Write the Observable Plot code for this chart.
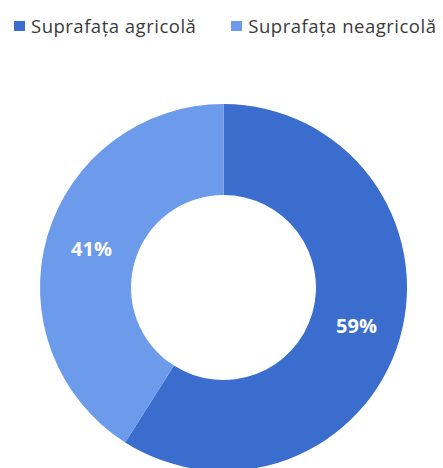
<!DOCTYPE html>
<html>
<head>
<meta charset="utf-8">
<script src="https://cdn.jsdelivr.net/npm/d3@7"></script>
<script src="https://cdn.jsdelivr.net/npm/@observablehq/plot@0.6"></script>
<style>
  html, body { margin: 0; padding: 0; background: #ffffff; }
  body { width: 443px; height: 468px; overflow: hidden; font-family: "Open Sans", sans-serif; }
  #legend { height: 40px; box-sizing: border-box; padding: 11px 0 0 14px; display: flex; align-items: center; align-content: flex-start; gap: 35px; }
  #legend .item { display: flex; align-items: center; gap: 6px; font-size: 18.5px; letter-spacing: 0.5px; color: #3a3a3a; line-height: 22px; white-space: nowrap; }
  #legend .sw { width: 11px; height: 10px; display: inline-block; }
  #chart svg { display: block; }
</style>
</head>
<body>
<div id="legend"></div>
<div id="chart"></div>
<script>
// Data
const categories = ["Suprafața agricolă", "Suprafața neagricolă"];
const shares = [59, 41];
const labels = ["59%", "41%"];
const colors = ["#3A6DCD", "#6D9BEC"];

// Layout constants
const W = 443, H = 428;
const cx0 = 223.5, cy0 = 247.5, R = 183.5;
const innerRatio = 0.504;

const colorScale = Plot.scale({color: {domain: categories, range: colors}});

// Legend
const legend = document.getElementById("legend");
categories.forEach(c => {
  const item = document.createElement("span");
  item.className = "item";
  const sw = document.createElement("span");
  sw.className = "sw";
  sw.style.background = colorScale.apply(c);
  const t = document.createElement("span");
  t.textContent = c;
  item.appendChild(sw);
  item.appendChild(t);
  legend.appendChild(item);
});

const data = categories.map((c, i) => ({category: c, share: shares[i], label: labels[i]}));
const pie = d3.pie().value(d => d.share).sort(null)(data);
const unitArc = d3.arc().innerRadius(innerRatio).outerRadius(1);
const labelPts = pie.map(p => {
  const [cx, cy] = unitArc.centroid(p);
  return {...p.data, cx, cy};
});

const chart = Plot.plot({
  width: W,
  height: H,
  margin: 0,
  style: {background: "transparent", overflow: "visible"},
  x: {domain: [-1, 1], range: [cx0 - R, cx0 + R], axis: null},
  y: {domain: [-1, 1], range: [cy0 - R, cy0 + R], axis: null},
  marks: [
    (index, scales) => {
      const g = d3.create("svg:g");
      const x0 = scales.x(0), y0 = scales.y(0), r = scales.x(1) - x0;
      const arc = d3.arc().innerRadius(r * innerRatio).outerRadius(r);
      g.attr("transform", `translate(${x0},${y0})`);
      g.selectAll("path").data(pie).join("path")
        .attr("d", arc)
        .attr("fill", d => colorScale.apply(d.data.category));
      return g.node();
    },
    Plot.text(labelPts, {
      x: "cx", y: "cy", text: "label",
      fill: "white", fontSize: 20, fontWeight: 700,
      fontFamily: "Open Sans"
    })
  ]
});
document.getElementById("chart").appendChild(chart);
</script>
</body>
</html>
